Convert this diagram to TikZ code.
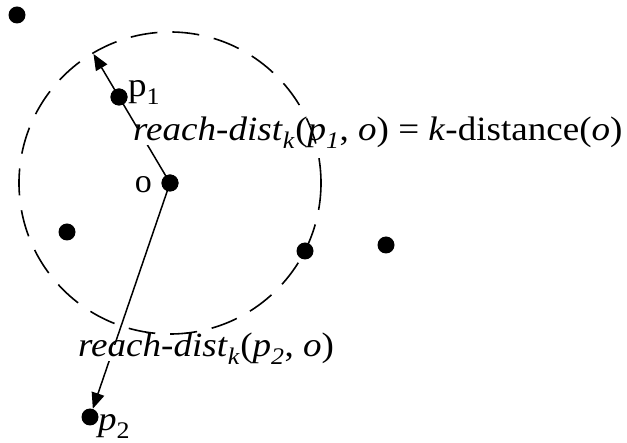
\documentclass[tikz,border=0pt]{standalone}
\usepackage{fontspec}
\setmainfont{Liberation Serif}
\usetikzlibrary{arrows.meta, calc}
\newcommand{\widetxt}[1]{\scalebox{1.09}[1]{#1}}
\tikzset{
  dot/.style={circle, fill=black, inner sep=0pt, minimum size=17pt},
  arr/.style={-{Triangle[length=16pt, width=13pt]}, line width=1.5pt},
  ring/.style={dash pattern=on 27pt off 15pt, line width=1.6pt},
  lbl/.style={font=\fontsize{34}{40}\selectfont, inner sep=0pt},
  txt/.style={lbl, fill=white, inner xsep=6pt, inner ysep=2pt,
    text height=1em, text depth=0.25em}
}

\begin{document}
\begin{tikzpicture}[x=1pt, y=-1pt]
  \useasboundingbox (0,0) rectangle (627,443);

  %% ── points ──────────────────────────────────────────────
  \node[dot] (o)  at (170,183) {};
  \node[dot] (p1) at (119,97)  {};
  \node[dot] (p2) at (90,417)  {};
  \node[dot] (q1) at (17,15)   {};
  \node[dot] (q2) at (67,232)  {};
  \node[dot] (q3) at (305,251) {};
  \node[dot] (q4) at (386,245) {};

  %% reach distances
  \coordinate (t1) at ($(o)!150pt!(p1)$);
  \draw[arr] (o.center) -- (t1);
  \draw[arr] (o.center) -- (p2);

  \node[txt, anchor=base west] (rd1) at (127,141)
    {\widetxt{\textit{reach-dist}\textsubscript{\textit{k}}(\textit{p}\textsubscript{\textit{1}}, \textit{o}) = \textit{k}-distance(\textit{o})}};
  \node[txt, anchor=base west] (rd2) at (72,357)
    {\widetxt{\textit{reach-dist}\textsubscript{\textit{k}}(\textit{p}\textsubscript{\textit{2}}, \textit{o})}};

  %% k-distance neighbourhood
  \draw[ring] (o.center) circle[radius=151];
  \node[dot] at (o) {};
  \node[dot] at (p1) {};

  %% labels
  \node[lbl, anchor=base west] (lp1) at (128,97) {\widetxt{p\textsubscript{1}}};
  \node[lbl, anchor=base east] (lo)  at (152,193) {o};
  \node[lbl, anchor=base west] (lp2) at (98,431) {\widetxt{\textit{p}\textsubscript{2}}};

\end{tikzpicture}
\end{document}
